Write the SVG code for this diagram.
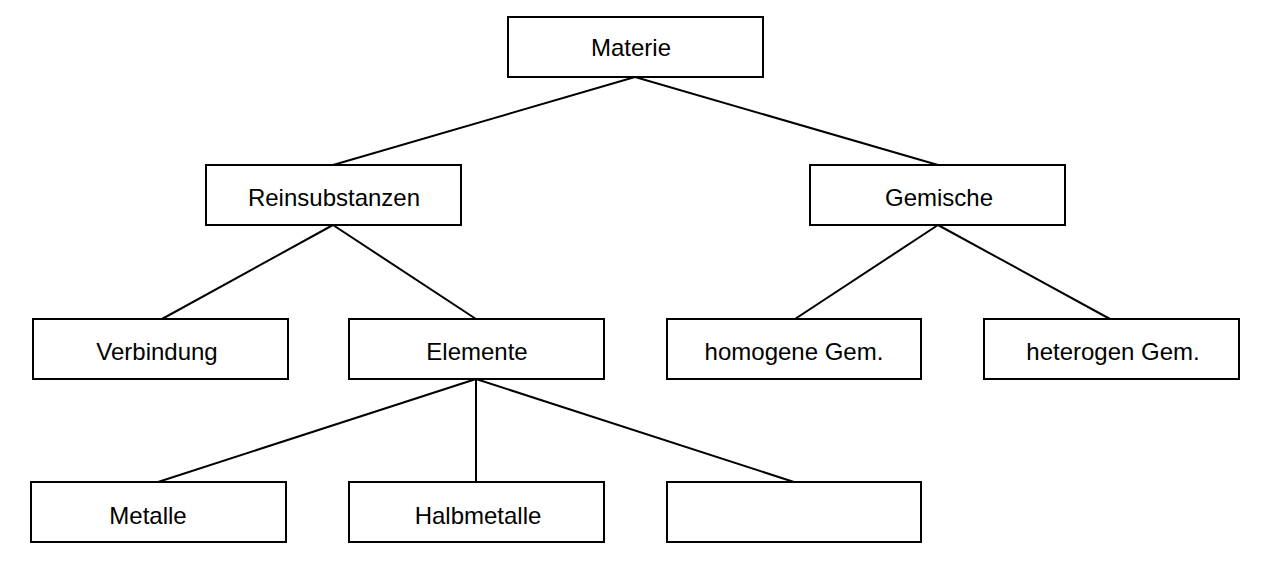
<svg xmlns="http://www.w3.org/2000/svg" width="1265" height="567" viewBox="0 0 1265 567">
<style>
rect{fill:#fff;stroke:#000;stroke-width:2}
text{font-family:"Liberation Sans",Arial,sans-serif;font-size:24px;text-anchor:middle;dominant-baseline:central;fill:#000}
#connectors line{stroke:#000;stroke-width:2}
</style>
<rect x="0" y="0" width="1265" height="567" style="stroke:none"/>
<g id="connectors">
<line x1="635" y1="77" x2="333" y2="165"/>
<line x1="635" y1="77" x2="938" y2="165"/>
<line x1="333" y1="225" x2="162" y2="319"/>
<line x1="333" y1="225" x2="476" y2="319"/>
<line x1="938" y1="225" x2="795" y2="319"/>
<line x1="938" y1="225" x2="1110" y2="319"/>
<line x1="476" y1="379" x2="158" y2="482"/>
<line x1="476" y1="379" x2="476" y2="482"/>
<line x1="476" y1="379" x2="794" y2="482"/>
</g>
<g id="materie"><rect x="508" y="17" width="255" height="60"/><text x="631" y="47">Materie</text></g>
<g id="reinsubstanzen"><rect x="206" y="165" width="255" height="60"/><text x="334" y="197">Reinsubstanzen</text></g>
<g id="gemische"><rect x="810" y="165" width="255" height="60"/><text x="939" y="197">Gemische</text></g>
<g id="verbindung"><rect x="33" y="319" width="255" height="60"/><text x="157" y="351">Verbindung</text></g>
<g id="elemente"><rect x="349" y="319" width="255" height="60"/><text x="477" y="351">Elemente</text></g>
<g id="homogene"><rect x="667" y="319" width="254" height="60"/><text x="794" y="351">homogene Gem.</text></g>
<g id="heterogen"><rect x="984" y="319" width="255" height="60"/><text x="1113" y="351">heterogen Gem.</text></g>
<g id="metalle"><rect x="31" y="482" width="255" height="60"/><text x="148" y="515">Metalle</text></g>
<g id="halbmetalle"><rect x="349" y="482" width="255" height="60"/><text x="478" y="515">Halbmetalle</text></g>
<g id="empty"><rect x="667" y="482" width="254" height="60"/></g>
</svg>
